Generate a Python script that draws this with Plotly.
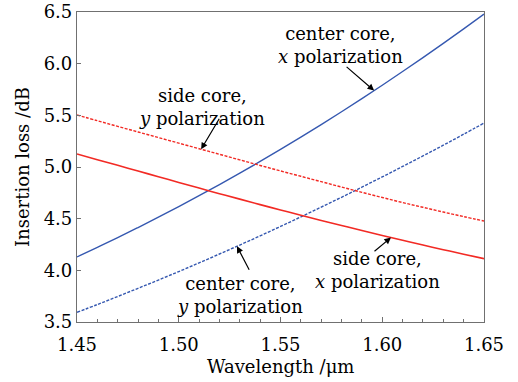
import numpy as np
import plotly.graph_objects as go

# Wavelength samples (µm)
wavelength = [1.45, 1.46, 1.47, 1.48, 1.49, 1.50, 1.51, 1.52, 1.53, 1.54, 1.55,
              1.56, 1.57, 1.58, 1.59, 1.60, 1.61, 1.62, 1.63, 1.64, 1.65]

# Insertion loss (dB) for each core / polarization
center_x = [4.130, 4.222, 4.316, 4.414, 4.514, 4.616, 4.722, 4.830, 4.940, 5.054, 5.170,
            5.289, 5.410, 5.535, 5.662, 5.791, 5.924, 6.059, 6.196, 6.337, 6.480]
center_y = [3.594, 3.669, 3.747, 3.826, 3.906, 3.988, 4.072, 4.158, 4.245, 4.334, 4.425,
            4.517, 4.612, 4.707, 4.805, 4.904, 5.005, 5.107, 5.211, 5.317, 5.425]
side_y = [5.503, 5.448, 5.393, 5.339, 5.285, 5.231, 5.177, 5.123, 5.069, 5.015, 4.962,
          4.910, 4.858, 4.806, 4.755, 4.705, 4.656, 4.610, 4.564, 4.520, 4.477]
side_x = [5.126, 5.071, 5.016, 4.961, 4.906, 4.851, 4.796, 4.742, 4.689, 4.636, 4.584,
          4.533, 4.483, 4.434, 4.386, 4.338, 4.291, 4.245, 4.200, 4.156, 4.113]

x_ticks = [1.45, 1.50, 1.55, 1.60, 1.65]
y_ticks = [3.5, 4.0, 4.5, 5.0, 5.5, 6.0, 6.5]

BLUE = "#3558b0"
RED = "#f22a24"
AXIS = "#707070"
FONT = "DejaVu Serif, serif"
FS = 18

fig = go.Figure()
fig.add_trace(go.Scatter(x=wavelength, y=center_x, mode="lines",
                         line=dict(color=BLUE, width=1.4), line_shape="spline"))
fig.add_trace(go.Scatter(x=wavelength, y=center_y, mode="lines",
                         line=dict(color=BLUE, width=1.4, dash="3px,1.5px"), line_shape="spline"))
fig.add_trace(go.Scatter(x=wavelength, y=side_y, mode="lines",
                         line=dict(color=RED, width=1.4, dash="3px,1.5px"), line_shape="spline"))
fig.add_trace(go.Scatter(x=wavelength, y=side_x, mode="lines",
                         line=dict(color=RED, width=1.6), line_shape="spline"))

# Labels with arrows pointing at each curve
labels = [
    # text, text x, text y, series, arrow tip x, tail offset (px)
    ("center core,<br><i>x</i> polarization", 1.5797, 6.18, center_x, 1.596, (-29, -25)),
    ("side core,<br><i>y</i> polarization", 1.5114, 5.585, side_y, 1.511, (19, -32)),
    ("center core,<br><i>y</i> polarization", 1.530, 3.766, center_y, 1.5286, (13, 25)),
    ("side core,<br><i>x</i> polarization", 1.5979, 4.003, side_x, 1.6043, (-18, 15)),
]
for text, tx, ty, series, tip_x, (ax, ay) in labels:
    fig.add_annotation(x=tx, y=ty, text=text, showarrow=False,
                       font=dict(family=FONT, size=FS, color="black"))
    fig.add_annotation(x=tip_x, y=float(np.interp(tip_x, wavelength, series)),
                       text="", showarrow=True, ax=ax, ay=ay,
                       arrowhead=2, arrowsize=1.1, arrowwidth=1.2, arrowcolor="black")

# Axis titles
fig.add_annotation(xref="paper", yref="paper", x=0.5, y=-0.145, yanchor="middle",
                   text="Wavelength /μm", showarrow=False,
                   font=dict(family=FONT, size=FS, color="black"))
fig.add_annotation(xref="paper", yref="paper", x=-0.135, y=0.5, xanchor="center",
                   text="Insertion loss /dB", textangle=-90, showarrow=False,
                   font=dict(family=FONT, size=FS, color="black"))

axis_common = dict(showline=True, linecolor=AXIS, linewidth=1.2, mirror=True,
                   showgrid=False, zeroline=False, ticks="inside", tickcolor=AXIS,
                   automargin=False,
                   tickfont=dict(family=FONT, size=FS, color="black"))

fig.update_xaxes(range=[1.45, 1.65], tickvals=x_ticks,
                 ticktext=[f"{v:.2f}" for v in x_ticks], ticklen=5,
                 ticklabelstandoff=6,
                 minor=dict(dtick=0.01, ticks="inside", ticklen=3, tickcolor=AXIS),
                 **axis_common)
fig.update_yaxes(range=[3.5, 6.5], tickvals=y_ticks,
                 ticktext=[f"{v:.1f}" for v in y_ticks], ticklen=4,
                 **axis_common)

fig.update_layout(width=518, height=382, showlegend=False,
                  margin=dict(l=77, r=34, t=12, b=60),
                  paper_bgcolor="white", plot_bgcolor="white")

fig.write_html("out.html")
